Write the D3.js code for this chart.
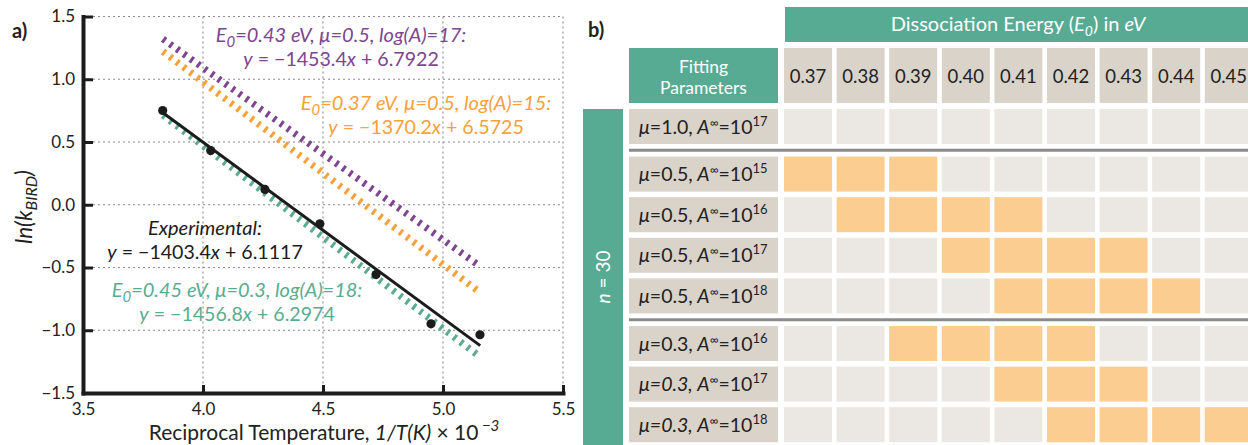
<!DOCTYPE html>
<html>
<head>
<meta charset="utf-8">
<script src="https://cdn.jsdelivr.net/npm/d3@7"></script>
<style>
  html, body { margin: 0; padding: 0; background: #fff; }
  svg { display: block; font-family: Lato, "Noto Sans", sans-serif; }
</style>
</head>
<body>
<svg id="fig" width="1248" height="445"></svg>
<script>
// ---------- panel a: Arrhenius plot of BIRD rate constants ----------
const invTemp = [3.832, 4.032, 4.258, 4.487, 4.721, 4.950, 5.154];   // 1/T(K) x 10^-3
const lnRate  = [0.751, 0.432, 0.122, -0.152, -0.556, -0.949, -1.036]; // ln(k_BIRD)
const xTickValues = [3.5, 4.0, 4.5, 5.0, 5.5];
const yTickValues = [-1.5, -1.0, -0.5, 0.0, 0.5, 1.0, 1.5];

// linear fits: ln(k) = slope * (1/T) + intercept
const fitSlopes     = [-1403.4, -1370.2, -1453.4, -1456.8];
const fitIntercepts = [6.1117, 6.5725, 6.7922, 6.2974];
const fitE0   = [null, "0.37", "0.43", "0.45"];
const fitMu   = [null, "0.5", "0.5", "0.3"];
const fitLogA = [null, 15, 17, 18];
const fitSpan = [[3.83, 5.155], [3.833, 5.142], [3.833, 5.142], [3.833, 5.142]];

const purple = "#7e4590", orange = "#f7a13a", green = "#5aac91", ink = "#1c1c1c";
const fitLineColors = [ink, purple, orange, green];
const fitTextColors = [ink, orange, purple, green];
const fitDrawOrder  = [1, 2, 3, 0];
const fitLabelAnchor = [[205, 235], [426, 110], [341, 42], [237, 297]];

// ---------- panel b: grid of fitting parameters vs. dissociation energy ----------
const energies = ["0.37", "0.38", "0.39", "0.40", "0.41", "0.42", "0.43", "0.44", "0.45"];
const rowMu    = ["1.0", "0.5", "0.5", "0.5", "0.5", "0.3", "0.3", "0.3"];
const rowLogA  = [17, 15, 16, 17, 18, 16, 17, 18];
const rowGroup = [0, 1, 1, 1, 1, 2, 2, 2];
const rowItalicValue = [false, false, false, false, false, false, true, true];
const matches = [
  [],
  ["0.37", "0.38", "0.39"],
  ["0.38", "0.39", "0.40", "0.41"],
  ["0.40", "0.41", "0.42", "0.43"],
  ["0.41", "0.42", "0.43", "0.44"],
  ["0.39", "0.40", "0.41", "0.42"],
  ["0.41", "0.42", "0.43"],
  ["0.42", "0.43", "0.44", "0.45"]
];

const teal = "#58ab93", beige = "#d9d3ca", pale = "#ebe8e3", peach = "#fbcd90";

const svg = d3.select("#fig");

// ================= panel a =================
const x = d3.scaleLinear().domain([3.5, 5.5]).range([83, 563]);
const y = d3.scaleLinear().domain([-1.5, 1.5]).range([393, 16.5]);

const grid = svg.append("g").attr("stroke", "#8a8a8a").attr("stroke-width", 1.1)
  .attr("stroke-dasharray", "2,3");
grid.selectAll("line.v").data(xTickValues.slice(1)).join("line")
  .attr("x1", d => x(d)).attr("x2", d => x(d))
  .attr("y1", y(1.5)).attr("y2", y(-1.5));
grid.selectAll("line.h").data(yTickValues.slice(1)).join("line")
  .attr("x1", x(3.5)).attr("x2", x(5.5))
  .attr("y1", d => y(d)).attr("y2", d => y(d));

// fitted lines
const fitLine = (i) => fitSpan[i].map(t => [x(t), y(fitSlopes[i] * t / 1000 + fitIntercepts[i])]);
fitDrawOrder.forEach(i => {
  const pts = fitLine(i);
  const ln = svg.append("line")
    .attr("x1", pts[0][0]).attr("y1", pts[0][1])
    .attr("x2", pts[1][0]).attr("y2", pts[1][1])
    .attr("stroke", fitLineColors[i]);
  if (i === 0) ln.attr("stroke-width", 3);
  else ln.attr("stroke-width", 7).attr("stroke-dasharray", "3,5.5");
});

// measured points
svg.append("g").selectAll("circle").data(invTemp).join("circle")
  .attr("cx", d => x(d)).attr("cy", (d, i) => y(lnRate[i]))
  .attr("r", 4.6).attr("fill", ink);

// axes
const axisFont = 17;
const gx = svg.append("g").attr("transform", `translate(0,${y(-1.5)})`)
  .call(d3.axisBottom(x).tickValues(xTickValues).tickFormat(d3.format(".1f"))
    .tickSize(-8).tickSizeOuter(0).tickPadding(10));
const gy = svg.append("g").attr("transform", `translate(${x(3.5)},0)`)
  .call(d3.axisLeft(y).tickValues(yTickValues).tickFormat(d => d3.format(".1f")(d).replace("-", "\u2212"))
    .tickSize(-10).tickSizeOuter(0).tickPadding(8));
[gx, gy].forEach(g => {
  g.select(".domain").attr("stroke", ink).attr("stroke-width", 4).attr("stroke-linecap", "square");
  g.selectAll(".tick line").attr("stroke", ink).attr("stroke-width", 3);
  g.selectAll(".tick text").attr("fill", "#222").attr("font-size", axisFont)
    .attr("font-family", "Lato, 'Noto Sans', sans-serif");
});

// axis titles
const xt = svg.append("text").attr("x", 324).attr("y", 439.7).attr("text-anchor", "middle")
  .attr("font-size", 21).attr("fill", "#222");
xt.append("tspan").text("Reciprocal Temperature, ");
xt.append("tspan").attr("font-style", "italic").text("1/T(K)");
xt.append("tspan").text(" \u00d7 10");
xt.append("tspan").attr("dy", -9).attr("font-size", 15).attr("font-style", "italic").text(" \u22123");

const yt = svg.append("text").attr("transform", "translate(32,207) rotate(-90)")
  .attr("text-anchor", "middle").attr("font-size", 22.5).attr("font-style", "italic").attr("fill", "#222");
yt.append("tspan").text("ln(k");
yt.append("tspan").attr("dy", 5).attr("font-size", 16).text("BIRD");
yt.append("tspan").attr("dy", -5).text(")");

// fit annotations
const fmtEq = i => {
  const s = Math.abs(fitSlopes[i]).toFixed(1), b = fitIntercepts[i].toFixed(4);
  return [["y", true], [" = \u2212" + s, false], ["x", true], [" + " + b, false]];
};
fitLabelAnchor.forEach(([cx, cy], i) => {
  const t1 = svg.append("text").attr("x", cx).attr("y", cy).attr("text-anchor", "middle")
    .attr("font-size", 20).attr("font-style", "italic").attr("fill", fitTextColors[i]);
  if (fitE0[i] === null) {
    t1.text("Experimental:");
  } else {
    t1.append("tspan").text("E");
    t1.append("tspan").attr("dy", 5).attr("font-size", 15).text("0");
    t1.append("tspan").attr("dy", -5)
      .text(`=${fitE0[i]} eV, \u03bc=${fitMu[i]}, log(A)=${fitLogA[i]}:`);
  }
  const t2 = svg.append("text").attr("x", cx).attr("y", cy + 24).attr("text-anchor", "middle")
    .attr("font-size", 19.6).attr("fill", fitTextColors[i]);
  fmtEq(i).forEach(([s, it]) => t2.append("tspan").attr("font-style", it ? "italic" : "normal").text(s));
});

svg.append("text").attr("x", 12).attr("y", 38).attr("font-size", 20).attr("font-weight", 700)
  .attr("fill", "#222").text("a)");

// ================= panel b =================
svg.append("text").attr("x", 588).attr("y", 37).attr("font-size", 20).attr("font-weight", 700)
  .attr("fill", "#222").text("b)");

const xe = d3.scaleBand().domain(energies).range([784, 1252.8]).paddingInner(0.087);
const rowStep = d3.scaleLinear().domain([0, 1]).range([109, 149.6]);
const rowTop = i => rowStep(i) + rowGroup[i] * 7;
const rowH = 35;

// header band
svg.append("rect").attr("x", 785).attr("y", 7).attr("width", 470).attr("height", 35).attr("fill", teal);
const hd = svg.append("text").attr("x", 1018).attr("y", 31).attr("text-anchor", "middle")
  .attr("font-size", 20).attr("fill", "#fff");
hd.append("tspan").text("Dissociation Energy (");
hd.append("tspan").attr("font-style", "italic").text("E");
hd.append("tspan").attr("font-style", "italic").attr("dy", 5).attr("font-size", 14).text("0");
hd.append("tspan").attr("dy", -5).text(") in ");
hd.append("tspan").attr("font-style", "italic").text("eV");

// column header row
svg.append("rect").attr("x", 629).attr("y", 48).attr("width", 149).attr("height", 55).attr("fill", teal);
svg.append("text").attr("x", 703.5).attr("y", 72.5).attr("text-anchor", "middle")
  .attr("font-size", 17.5).attr("fill", "#fff").text("Fitting");
svg.append("text").attr("x", 703.5).attr("y", 93.5).attr("text-anchor", "middle")
  .attr("font-size", 17.5).attr("fill", "#fff").text("Parameters");

const colHead = svg.append("g").selectAll("g").data(energies).join("g");
colHead.append("rect").attr("x", d => xe(d)).attr("y", 48)
  .attr("width", xe.bandwidth()).attr("height", 55).attr("fill", beige);
colHead.append("text").attr("x", d => xe(d) + xe.bandwidth() / 2).attr("y", 83)
  .attr("text-anchor", "middle").attr("font-size", 18.5).attr("fill", "#222").text(d => d);

// side band: n = 30
svg.append("rect").attr("x", 583).attr("y", 109).attr("width", 40).attr("height", 340).attr("fill", teal);
const nt = svg.append("text").attr("transform", "translate(610,277) rotate(-90)")
  .attr("text-anchor", "middle").attr("font-size", 19).attr("fill", "#fff");
nt.append("tspan").attr("font-style", "italic").text("n");
nt.append("tspan").text(" = 30");

// group separators
[1, 5].forEach(i => {
  svg.append("line").attr("x1", 629).attr("x2", 1248)
    .attr("y1", rowTop(i) - 6.3).attr("y2", rowTop(i) - 6.3)
    .attr("stroke", "#8b8b8b").attr("stroke-width", 3);
});

// parameter rows
rowMu.forEach((mu, i) => {
  const top = rowTop(i);
  svg.append("rect").attr("x", 629).attr("y", top).attr("width", 149).attr("height", rowH).attr("fill", beige);
  const t = svg.append("text").attr("x", 639).attr("y", top + 24.5).attr("font-size", 19.5).attr("fill", "#222");
  t.append("tspan").attr("font-style", "italic").text("\u03bc");
  t.append("tspan").attr("font-style", rowItalicValue[i] ? "italic" : "normal").text("=" + mu + ",");
  t.append("tspan").attr("font-style", "italic").text(" A");
  t.append("tspan").attr("dy", -7).attr("font-size", 12).text("\u221e");
  t.append("tspan").attr("dy", 7).text("=10");
  t.append("tspan").attr("dy", -8).attr("font-size", 13).text(rowLogA[i]);

  svg.append("g").selectAll("rect").data(energies).join("rect")
    .attr("x", d => xe(d)).attr("y", top)
    .attr("width", xe.bandwidth()).attr("height", rowH)
    .attr("fill", d => matches[i].includes(d) ? peach : pale);
});
</script>
</body>
</html>
